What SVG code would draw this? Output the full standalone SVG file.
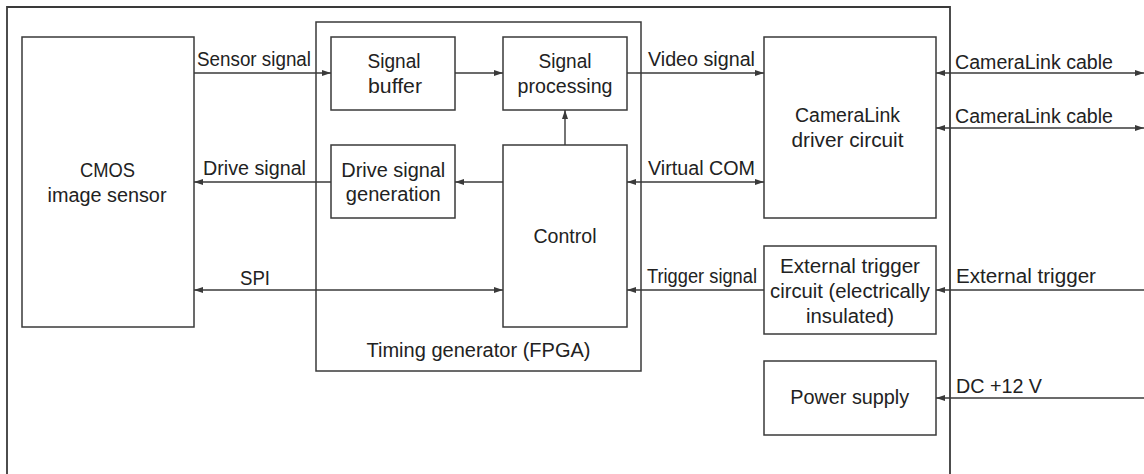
<svg xmlns="http://www.w3.org/2000/svg" width="1144" height="474" viewBox="0 0 1144 474">
<style>
.box{fill:#fff;stroke:#3a3a3a;stroke-width:1.5}
.frame{fill:none;stroke:#3a3a3a;stroke-width:1.8}
.ln{fill:none;stroke:#3a3a3a;stroke-width:1.4}
text{font-family:"Liberation Sans",Arial,sans-serif;font-size:19.5px;fill:#222}
.c{text-anchor:middle}
</style>
<defs>
<marker id="ah" markerUnits="userSpaceOnUse" markerWidth="10" markerHeight="6" refX="9" refY="3" orient="auto-start-reverse">
<path d="M0,0 L9,3 L0,6 z" fill="#3a3a3a"/>
</marker>
</defs>
<rect width="1144" height="474" fill="#fff"/>
<g id="camera">
<path class="frame" d="M7,474 V7 H950 V474"/>
</g>
<g id="fpga">
<rect class="box" x="316" y="22" width="325" height="349"/>
<text class="c" x="478.5" y="357" textLength="224" lengthAdjust="spacingAndGlyphs">Timing generator (FPGA)</text>
</g>
<g id="cmos">
<rect class="box" x="22" y="37" width="172" height="290"/>
<text class="c" x="107.5" y="177" textLength="55" lengthAdjust="spacingAndGlyphs">CMOS</text>
<text class="c" x="107" y="202" textLength="119" lengthAdjust="spacingAndGlyphs">image sensor</text>
</g>
<g id="buffer">
<rect class="box" x="331" y="37" width="124" height="73"/>
<text class="c" x="394" y="68" textLength="53" lengthAdjust="spacingAndGlyphs">Signal</text>
<text class="c" x="395" y="93" textLength="54" lengthAdjust="spacingAndGlyphs">buffer</text>
</g>
<g id="processing">
<rect class="box" x="503" y="37" width="124" height="73"/>
<text class="c" x="565" y="68" textLength="53" lengthAdjust="spacingAndGlyphs">Signal</text>
<text class="c" x="565" y="93" textLength="95" lengthAdjust="spacingAndGlyphs">processing</text>
</g>
<g id="drivegen">
<rect class="box" x="331" y="145" width="124" height="73"/>
<text class="c" x="393.3" y="177" textLength="104" lengthAdjust="spacingAndGlyphs">Drive signal</text>
<text class="c" x="393.3" y="201" textLength="95" lengthAdjust="spacingAndGlyphs">generation</text>
</g>
<g id="control">
<rect class="box" x="503" y="145" width="124" height="182"/>
<text class="c" x="565" y="243" textLength="63" lengthAdjust="spacingAndGlyphs">Control</text>
</g>
<g id="cameralink">
<rect class="box" x="764" y="37" width="172" height="181"/>
<text class="c" x="847.5" y="122" textLength="105" lengthAdjust="spacingAndGlyphs">CameraLink</text>
<text class="c" x="847.5" y="147" textLength="112" lengthAdjust="spacingAndGlyphs">driver circuit</text>
</g>
<g id="exttrig">
<rect class="box" x="764" y="246" width="172" height="88"/>
<text class="c" x="850" y="273" textLength="140" lengthAdjust="spacingAndGlyphs">External trigger</text>
<text class="c" x="850" y="298" textLength="160" lengthAdjust="spacingAndGlyphs">circuit (electrically</text>
<text class="c" x="850" y="323" textLength="88" lengthAdjust="spacingAndGlyphs">insulated)</text>
</g>
<g id="power">
<rect class="box" x="764" y="361" width="172" height="74"/>
<text class="c" x="849.7" y="404" textLength="119" lengthAdjust="spacingAndGlyphs">Power supply</text>
</g>
<g id="connectors">
<line class="ln" x1="194" y1="73" x2="331" y2="73" marker-end="url(#ah)"/>
<line class="ln" x1="455" y1="73" x2="503" y2="73" marker-end="url(#ah)"/>
<line class="ln" x1="627" y1="73" x2="764" y2="73" marker-end="url(#ah)"/>
<line class="ln" x1="331" y1="182" x2="194" y2="182" marker-end="url(#ah)"/>
<line class="ln" x1="503" y1="182" x2="455" y2="182" marker-end="url(#ah)"/>
<line class="ln" x1="627" y1="182" x2="764" y2="182" marker-start="url(#ah)" marker-end="url(#ah)"/>
<line class="ln" x1="565" y1="145" x2="565" y2="110" marker-end="url(#ah)"/>
<line class="ln" x1="194" y1="290" x2="503" y2="290" marker-start="url(#ah)" marker-end="url(#ah)"/>
<line class="ln" x1="764" y1="290" x2="627" y2="290" marker-end="url(#ah)"/>
<line class="ln" x1="1144" y1="290" x2="936" y2="290" marker-end="url(#ah)"/>
<line class="ln" x1="1144" y1="398" x2="936" y2="398" marker-end="url(#ah)"/>
<line class="ln" x1="936" y1="73" x2="1144" y2="73" marker-start="url(#ah)" marker-end="url(#ah)"/>
<line class="ln" x1="936" y1="128" x2="1144" y2="128" marker-start="url(#ah)" marker-end="url(#ah)"/>
<text x="197" y="66" textLength="114" lengthAdjust="spacingAndGlyphs">Sensor signal</text>
<text x="203" y="175" textLength="103" lengthAdjust="spacingAndGlyphs">Drive signal</text>
<text x="648" y="66" textLength="107" lengthAdjust="spacingAndGlyphs">Video signal</text>
<text x="648" y="175" textLength="107" lengthAdjust="spacingAndGlyphs">Virtual COM</text>
<text x="240" y="285" textLength="30" lengthAdjust="spacingAndGlyphs">SPI</text>
<text x="647" y="283" textLength="110" lengthAdjust="spacingAndGlyphs">Trigger signal</text>
<text x="956" y="283" textLength="140" lengthAdjust="spacingAndGlyphs">External trigger</text>
<text x="956" y="393" textLength="86" lengthAdjust="spacingAndGlyphs">DC +12 V</text>
<text x="955" y="69" textLength="158" lengthAdjust="spacingAndGlyphs">CameraLink cable</text>
<text x="955" y="123" textLength="158" lengthAdjust="spacingAndGlyphs">CameraLink cable</text>
</g>
</svg>
